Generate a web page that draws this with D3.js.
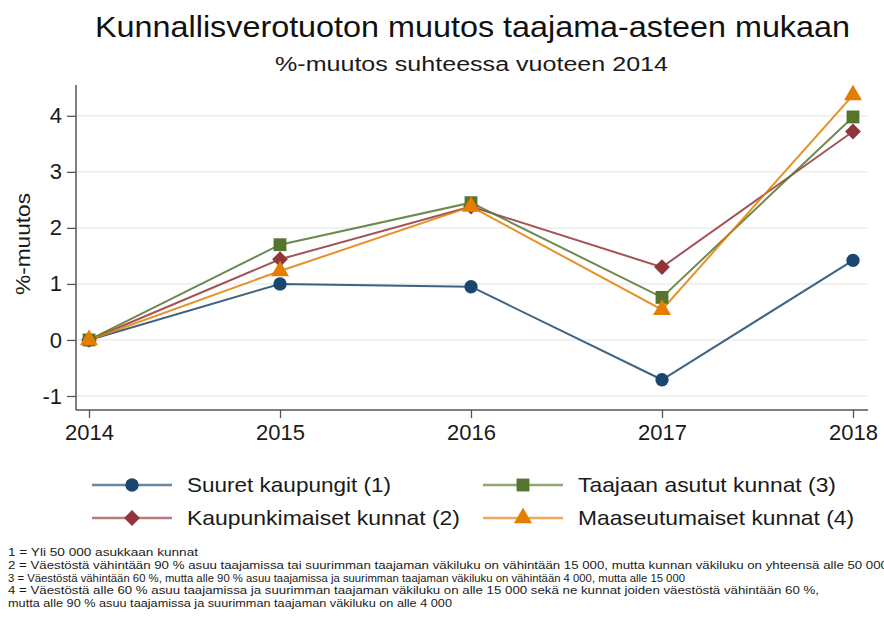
<!DOCTYPE html>
<html>
<head>
<meta charset="utf-8">
<script src="https://cdn.jsdelivr.net/npm/d3@7"></script>
<style>
  body { margin: 0; background: #fff; }
  svg { display: block; font-family: "Liberation Sans", Arial, sans-serif; }
</style>
</head>
<body>
<svg id="chart" width="884" height="617"></svg>
<script>
// Years on the x axis
const years = [2014, 2015, 2016, 2017, 2018];
// Change in municipal tax revenue, % relative to 2014
const suuret = [0, 1.00, 0.95, -0.71, 1.42];
const kaupunkimaiset = [0, 1.44, 2.38, 1.30, 3.72];
const taajaan = [0, 1.70, 2.45, 0.76, 3.98];
const maaseutu = [0, 1.23, 2.38, 0.54, 4.37];
const yTicks = [-1, 0, 1, 2, 3, 4];

const seriesNames = ["Suuret kaupungit (1)", "Kaupunkimaiset kunnat (2)", "Taajaan asutut kunnat (3)", "Maaseutumaiset kunnat (4)"];
const seriesValues = [suuret, kaupunkimaiset, taajaan, maaseutu];
const seriesColors = ["#1a476f", "#90353b", "#55752f", "#e37e00"];
// Diamond is drawn as a square turned 45 degrees
const seriesSymbols = [d3.symbolCircle, d3.symbolSquare, d3.symbolSquare, d3.symbolTriangle];
const symbolRotate = [0, 45, 0, 0];
const symbolSizes = [140, 125, 165, 140];

const notes = [
  "1 = Yli 50 000 asukkaan kunnat",
  "2 = Väestöstä vähintään 90 % asuu taajamissa tai suurimman taajaman väkiluku on vähintään 15 000, mutta kunnan väkiluku on yhteensä alle 50 000",
  "3 = Väestöstä vähintään 60 %, mutta alle 90 % asuu taajamissa ja suurimman taajaman väkiluku on vähintään 4 000, mutta alle 15 000",
  "4 = Väestöstä alle 60 % asuu taajamissa ja suurimman taajaman väkiluku on alle 15 000 sekä ne kunnat joiden väestöstä vähintään 60 %,",
  "mutta alle 90 % asuu taajamissa ja suurimman taajaman väkiluku on alle 4 000"
];
const noteWidths = [190, 880, 677, 811, 444];

const svg = d3.select("#chart");
const ink = "#1a1a1a";

const plot = { left: 76, right: 868, top: 85, bottom: 410 };
const x = d3.scaleLinear().domain([2014, 2018]).range([89, 853]);
const y = d3.scaleLinear().domain([-1.25, 4.55]).range([plot.bottom, plot.top]);

// Titles
svg.append("text").attr("x", 95).attr("y", 37)
  .attr("font-size", 30).attr("fill", "#111")
  .attr("textLength", 755).attr("lengthAdjust", "spacingAndGlyphs")
  .text("Kunnallisverotuoton muutos taajama-asteen mukaan");
svg.append("text").attr("x", 275).attr("y", 71)
  .attr("font-size", 20).attr("fill", ink)
  .attr("textLength", 393).attr("lengthAdjust", "spacingAndGlyphs")
  .text("%-muutos suhteessa vuoteen 2014");

// Horizontal grid
svg.append("g").selectAll("line").data(yTicks).join("line")
  .attr("x1", plot.left + 1).attr("x2", plot.right)
  .attr("y1", d => y(d)).attr("y2", d => y(d))
  .attr("stroke", "#ececec").attr("stroke-width", 1.5);

// Y axis
const yAxis = svg.append("g").attr("transform", `translate(${plot.left},0)`)
  .call(d3.axisLeft(y).tickValues(yTicks).tickSize(9).tickPadding(5).tickFormat(d3.format("d")));
yAxis.select(".domain").attr("d", `M0,${plot.top}V${plot.bottom}`).attr("stroke", "#555").attr("stroke-width", 1.5);
yAxis.selectAll(".tick line").attr("stroke", "#555").attr("stroke-width", 1.3);
yAxis.selectAll(".tick text").attr("font-size", 22).attr("fill", ink)
  .attr("font-family", "Liberation Sans, Arial, sans-serif").text(d => d < 0 ? "-" + Math.abs(d) : d);

// X axis
const xAxis = svg.append("g").attr("transform", `translate(0,${plot.bottom})`)
  .call(d3.axisBottom(x).tickValues(years).tickSize(8).tickPadding(6).tickFormat(d3.format("d")));
xAxis.select(".domain").attr("d", `M${plot.left},0H${plot.right}`).attr("stroke", "#555").attr("stroke-width", 1.5);
xAxis.selectAll(".tick line").attr("stroke", "#555").attr("stroke-width", 1.3);
xAxis.selectAll(".tick text").attr("font-size", 22).attr("fill", ink)
  .attr("font-family", "Liberation Sans, Arial, sans-serif");

// Y axis title
svg.append("text").attr("transform", "translate(30,244) rotate(-90)")
  .attr("text-anchor", "middle").attr("font-size", 21).attr("fill", ink)
  .attr("textLength", 102).attr("lengthAdjust", "spacingAndGlyphs")
  .text("%-muutos");

// Series lines, then markers on top
const line = d3.line().x((d, i) => x(years[i])).y(d => y(d));
seriesValues.forEach((vals, s) => {
  svg.append("path").datum(vals).attr("d", line)
    .attr("fill", "none").attr("stroke", seriesColors[s]).attr("stroke-width", 2)
    .attr("stroke-opacity", 0.85);
});
seriesValues.forEach((vals, s) => {
  svg.append("g").selectAll("path").data(vals).join("path")
    .attr("transform", (d, i) => `translate(${x(years[i])},${y(d)}) rotate(${symbolRotate[s]})`)
    .attr("d", d3.symbol().type(seriesSymbols[s]).size(symbolSizes[s]))
    .attr("fill", seriesColors[s]);
});

// Legend: two columns, two rows
const legendCol = [92, 92, 483, 483];
const legendRow = [485, 518, 485, 518];
const legendTextWidth = [204, 273, 258, 276];
seriesNames.forEach((name, s) => {
  const g = svg.append("g").attr("transform", `translate(${legendCol[s]},${legendRow[s]})`);
  g.append("line").attr("x1", 0).attr("x2", 80).attr("y1", 0).attr("y2", 0)
    .attr("stroke", seriesColors[s]).attr("stroke-width", 2.5).attr("stroke-opacity", 0.65);
  g.append("path").attr("transform", `translate(40,0) rotate(${symbolRotate[s]})`)
    .attr("d", d3.symbol().type(seriesSymbols[s]).size(symbolSizes[s]))
    .attr("fill", seriesColors[s]);
  g.append("text").attr("x", 95).attr("y", 6.5).attr("font-size", 21).attr("fill", ink)
    .attr("textLength", legendTextWidth[s]).attr("lengthAdjust", "spacingAndGlyphs")
    .text(name);
});

// Footnotes
svg.append("g").selectAll("text").data(notes).join("text")
  .attr("x", 8).attr("y", (d, i) => 556 + i * 12.8)
  .attr("font-size", 10.5).attr("fill", ink)
  .attr("font-family", "Liberation Sans Narrow, Liberation Sans, Arial, sans-serif")
  .attr("textLength", (d, i) => noteWidths[i]).attr("lengthAdjust", "spacingAndGlyphs")
  .text(d => d);
</script>
</body>
</html>
